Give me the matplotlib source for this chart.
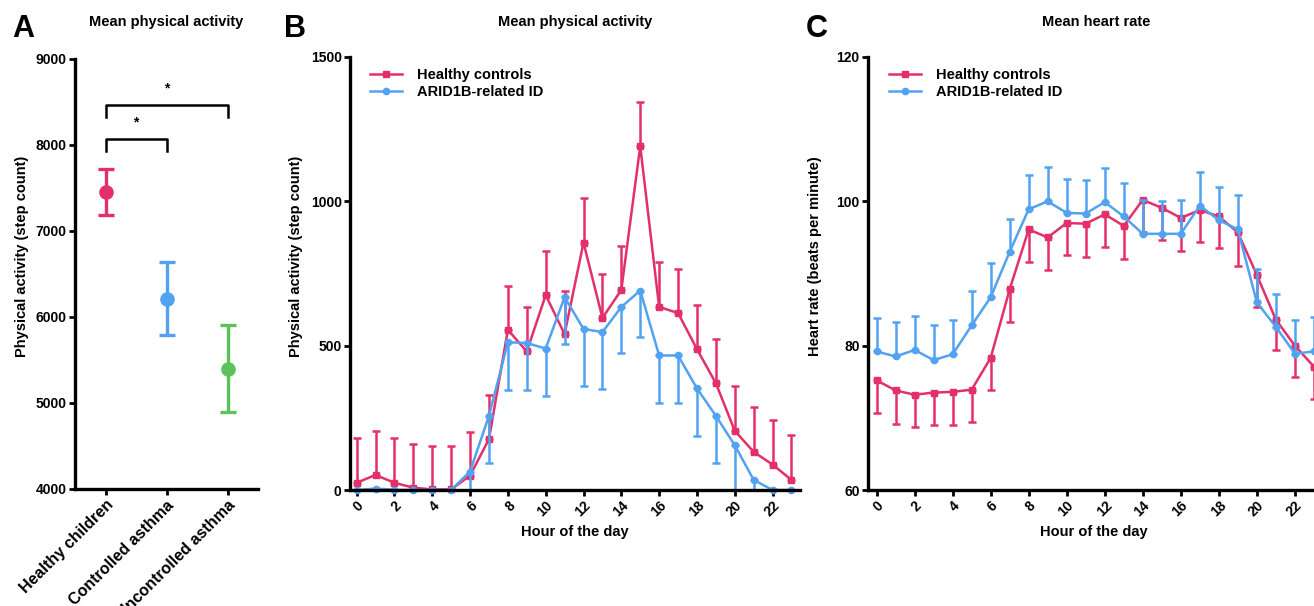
import matplotlib
matplotlib.use('Agg')
import matplotlib.pyplot as plt
import numpy as np

plt.rcParams['font.family'] = ['Liberation Sans', 'DejaVu Sans']
plt.rcParams['font.weight'] = 'bold'
plt.rcParams['axes.labelweight'] = 'bold'
plt.rcParams['axes.titleweight'] = 'bold'

# Panel A: mean step count per group
groups = ['Healthy children', 'Controlled asthma', 'Uncontrolled asthma']
grp_mean = [7450, 6210, 5400]
grp_low = [7185, 5790, 4890]
grp_high = [7720, 6640, 5905]

# Panel B: physical activity per hour
hours = list(range(24))
pa_healthy = [25, 52, 25, 8, 2, 2, 50, 176, 555, 480, 675, 540, 857, 596, 693, 1191,
              634, 613, 488, 370, 205, 132, 88, 35]
pa_healthy_hi = [179, 205, 179, 160, 154, 154, 200, 330, 707, 633, 829, 690, 1013, 748, 846, 1345,
                 789, 767, 641, 523, 359, 286, 244, 191]
pa_arid = [0, 5, 1, 0, 0, 0, 64, 257, 512, 509, 490, 668, 558, 547, 634, 691,
           466, 466, 352, 257, 155, 35, 0, 0]
pa_arid_lo = [0, 0, 0, 0, 0, 0, 0, 93, 345, 347, 326, 505, 362, 350, 474, 530,
              301, 301, 188, 93, 0, 0, 0, 0]

# Panel C: heart rate per hour
hr_healthy = [75.2, 73.8, 73.2, 73.5, 73.6, 73.9, 78.3, 87.8, 96.1, 95.0, 97.0, 96.9,
              98.2, 96.6, 100.2, 99.1, 97.7, 98.8, 97.9, 95.7, 89.8, 83.6, 80.0, 77.1]
hr_healthy_lo = [70.7, 69.1, 68.7, 69.0, 69.0, 69.4, 73.8, 83.3, 91.6, 90.5, 92.5, 92.3,
                 93.7, 92.0, 95.7, 94.6, 93.1, 94.4, 93.6, 91.0, 85.3, 79.4, 75.7, 72.6]
hr_arid = [79.2, 78.5, 79.4, 78.0, 78.8, 82.8, 86.7, 93.0, 98.9, 100.0, 98.4, 98.3,
           99.9, 97.9, 95.5, 95.5, 95.5, 99.4, 97.4, 96.1, 86.0, 82.6, 78.9, 79.2]
hr_arid_hi = [83.9, 83.3, 84.1, 82.8, 83.5, 87.6, 91.5, 97.6, 103.6, 104.7, 103.1, 103.0,
              104.6, 102.6, 100.2, 100.1, 100.2, 104.0, 102.0, 100.9, 90.6, 87.2, 83.5, 84.0]

red = '#e4306a'
blue = '#52a2f2'
green = '#5cc25c'

W, H = 1314, 606
fig = plt.figure(figsize=(W / 100, H / 100), dpi=100)


def px_axes(l, r, t, b):
    return fig.add_axes([l / W, (H - b) / H, (r - l) / W, (b - t) / H])


def style(ax):
    for s in ['top', 'right']:
        ax.spines[s].set_visible(False)
    for s in ['left', 'bottom']:
        ax.spines[s].set_linewidth(2.4)
    ax.tick_params(direction='out', length=4, width=2, labelsize=10, pad=2)


# ---- A ----
axA = px_axes(75, 258, 59, 489)
style(axA)
xg = np.arange(len(groups))
cols = [red, blue, green]
for i in range(len(groups)):
    axA.errorbar(xg[i], grp_mean[i],
                 yerr=[[grp_mean[i] - grp_low[i]], [grp_high[i] - grp_mean[i]]],
                 fmt='o', color=cols[i], ms=9.5, elinewidth=2.4, capsize=6, capthick=2.4)
axA.set_xlim(-0.5, 2.5)
axA.set_ylim(4000, 9000)
axA.set_yticks([4000, 5000, 6000, 7000, 8000, 9000])
axA.set_xticks(xg)
axA.set_xticklabels(groups, rotation=45, ha='right', rotation_mode='anchor', fontsize=11.5)
axA.set_ylabel('Physical activity (step count)', fontsize=10.5)
axA.yaxis.set_label_coords(-0.25, 0.54)
# significance brackets
axA.plot([0, 0, 1, 1], [7935, 8075, 8075, 7935], color='black', lw=1.8)
axA.plot([0, 0, 2, 2], [8320, 8465, 8465, 8320], color='black', lw=1.8)
axA.text(0.5, 8180, '*', ha='center', va='bottom', fontsize=10)
axA.text(1.0, 8575, '*', ha='center', va='bottom', fontsize=10)

# ---- B ----
axB = px_axes(350, 800, 57, 490)
style(axB)
hh = np.array(hours)
ph = np.array(pa_healthy)
pa = np.array(pa_arid)
axB.errorbar(hh, ph, yerr=[np.zeros(24), np.array(pa_healthy_hi) - ph], fmt='none',
             ecolor=red, elinewidth=1.8, capsize=3, capthick=1.8, clip_on=False)
axB.plot(hh, ph, '-s', color=red, lw=1.8, ms=5, label='Healthy controls', clip_on=False)
axB.errorbar(hh, pa, yerr=[pa - np.array(pa_arid_lo), np.zeros(24)], fmt='none',
             ecolor=blue, elinewidth=1.8, capsize=3, capthick=1.8, clip_on=False)
axB.plot(hh, pa, '-o', color=blue, lw=1.8, ms=4.5, label='ARID1B-related ID', clip_on=False)
axB.set_xlim(-0.35, 23.45)
axB.set_ylim(0, 1500)
axB.set_yticks([0, 500, 1000, 1500])
axB.set_xticks(range(0, 24, 2))
axB.set_xticklabels([str(v) for v in range(0, 24, 2)], rotation=45, ha='right',
                    rotation_mode='anchor', fontsize=10)
axB.set_xlabel('Hour of the day', fontsize=10.5)
axB.set_ylabel('Physical activity (step count)', fontsize=10.5)
axB.yaxis.set_label_coords(-0.104, 0.54)
axB.legend(loc='upper left', bbox_to_anchor=(0.045, 0.975), frameon=False, fontsize=10.5,
           handlelength=2.2, handletextpad=1.0, labelspacing=0.22, borderpad=0, borderaxespad=0)

# ---- C ----
axC = px_axes(868, 1331, 57, 490)
style(axC)
rh = np.array(hr_healthy)
ra = np.array(hr_arid)
axC.errorbar(hh, rh, yerr=[rh - np.array(hr_healthy_lo), np.zeros(24)], fmt='none',
             ecolor=red, elinewidth=1.8, capsize=3, capthick=1.8)
axC.plot(hh, rh, '-s', color=red, lw=1.8, ms=5, label='Healthy controls')
axC.errorbar(hh, ra, yerr=[np.zeros(24), np.array(hr_arid_hi) - ra], fmt='none',
             ecolor=blue, elinewidth=1.8, capsize=3, capthick=1.8)
axC.plot(hh, ra, '-o', color=blue, lw=1.8, ms=4.5, label='ARID1B-related ID')
axC.set_xlim(-0.45, 23.9)
axC.set_ylim(60, 120)
axC.set_yticks([60, 80, 100, 120])
axC.set_xticks(range(0, 24, 2))
axC.set_xticklabels([str(v) for v in range(0, 24, 2)], rotation=45, ha='right',
                    rotation_mode='anchor', fontsize=10)
axC.set_xlabel('Hour of the day', fontsize=10.5)
axC.xaxis.label.set_x((1094 - 868) / 463)
axC.set_ylabel('Heart rate (beats per minute)', fontsize=10.5)
axC.yaxis.set_label_coords(-0.099, 0.54)
axC.legend(loc='upper left', bbox_to_anchor=(0.045, 0.975), frameon=False, fontsize=10.5,
           handlelength=2.2, handletextpad=1.0, labelspacing=0.22, borderpad=0, borderaxespad=0)

# panel letters and titles
for x, s in [(12, 'A'), (284, 'B'), (806, 'C')]:
    fig.text(x / W, 1 - 29 / H, s, fontsize=22, fontweight='bold', va='center', ha='left')
for x, s in [(166, 'Mean physical activity'), (575, 'Mean physical activity'),
             (1096, 'Mean heart rate')]:
    fig.text(x / W, 1 - 22 / H, s, fontsize=10.5, fontweight='bold', va='center', ha='center')

fig.savefig('out.png', dpi=100)
